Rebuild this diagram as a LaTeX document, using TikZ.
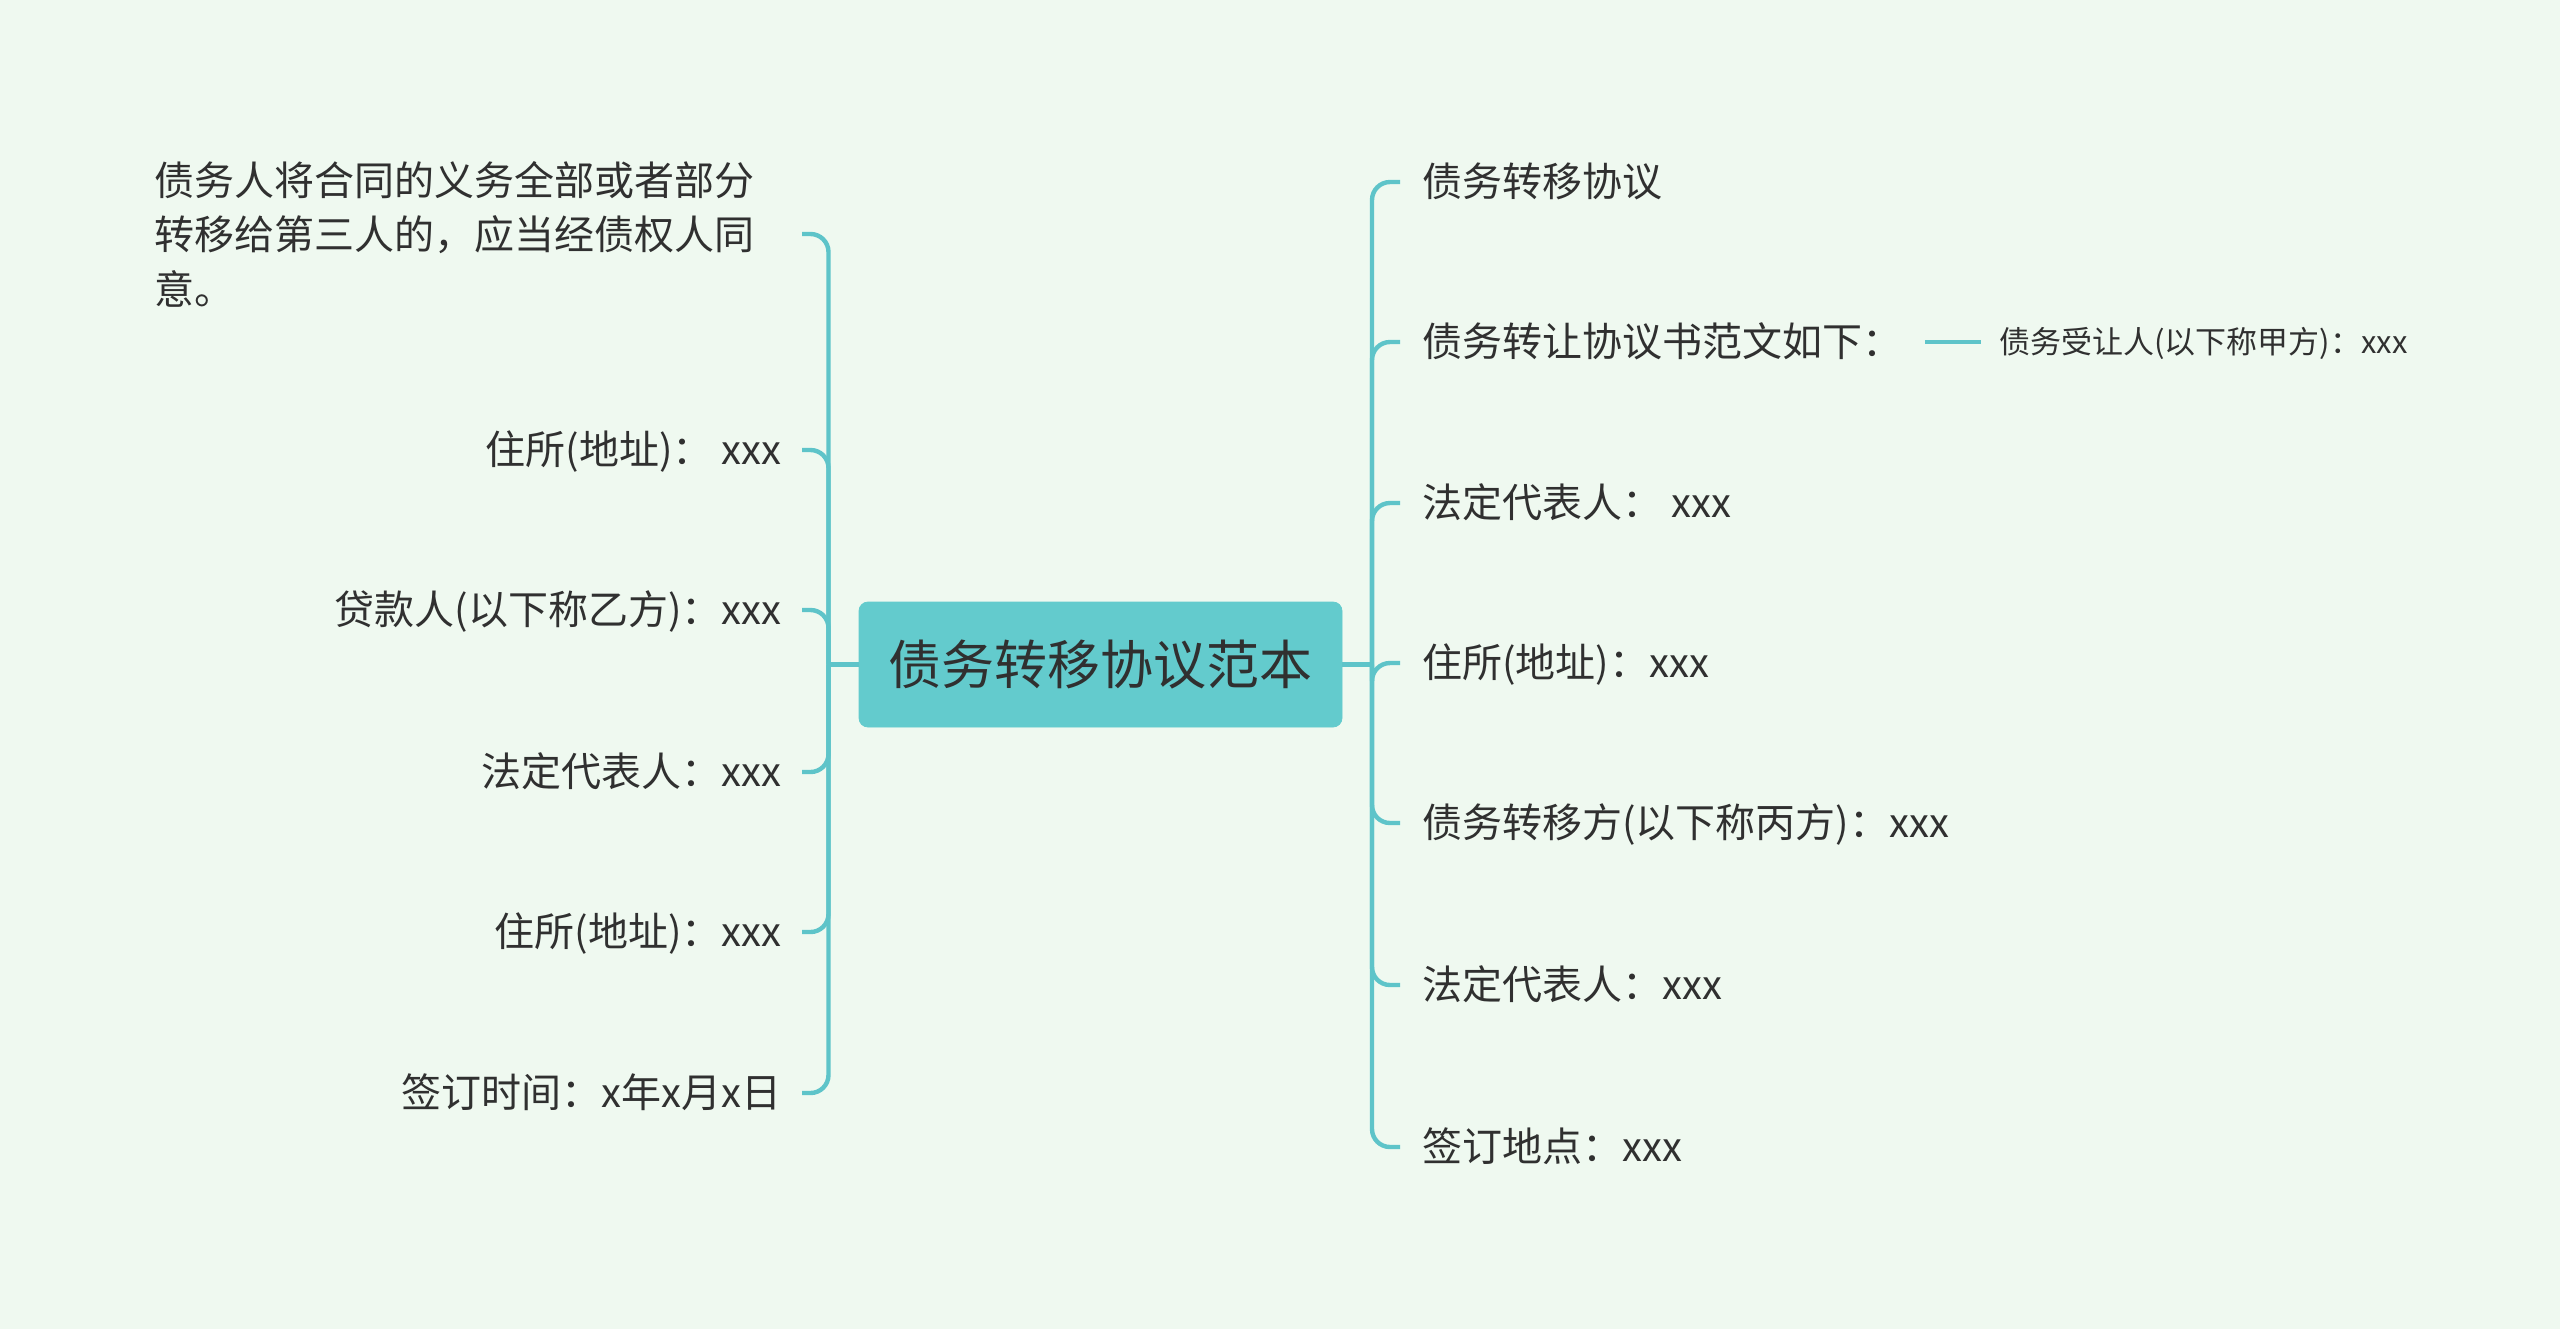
\documentclass[tikz,border=0pt]{standalone}
\usepackage{fontspec}
\setmainfont{Noto Sans CJK SC}
\usepackage{xcolor}
\usetikzlibrary{positioning}
\definecolor{bgmint}{RGB}{239,249,240}
\definecolor{linkteal}{RGB}{94,196,201}
\definecolor{rootteal}{RGB}{99,203,205}
\definecolor{inkgray}{RGB}{48,48,48}

\begin{document}
\begin{tikzpicture}[x=0.5pt,y=-0.5pt,
  link/.style={draw=linkteal,line width=2.2pt,rounded corners=9pt},
  topic/.style={fill=rootteal,draw=rootteal,rounded corners=4.5pt,minimum width=241.5pt,minimum height=62.5pt,inner sep=0pt,text=inkgray,font=\fontsize{26.5pt}{30pt}\selectfont},
  leaf/.style={inner ysep=0pt,inner xsep=10pt,text=inkgray,text height=17pt,text depth=2.2pt,font=\fontsize{20pt}{27.25pt}\selectfont},
  lleaf/.style={leaf,anchor=east},
  rleaf/.style={leaf,anchor=west,inner xsep=11pt},
  note/.style={anchor=east,inner ysep=0pt,inner xsep=10pt,text=inkgray,align=left,text width=313.5pt,font=\fontsize{20pt}{27.25pt}\selectfont},
  subleaf/.style={leaf,inner xsep=9pt,text height=13.2pt,text depth=1.7pt,font=\fontsize{15.5pt}{18pt}\selectfont}]
\fill[bgmint] (0,0) rectangle (2560,1329);
\useasboundingbox (0,0) rectangle (2560,1329);

\node[topic] (root) at (1100.5,664.5) {债务转移协议范本};

\node[note] (l1) at (802,234) {债务人将合同的义务全部或者部分\\转移给第三人的，应当经债权人同\\意。};
\node[lleaf] (l2) at (802,450) {住所(地址)： xxx};
\node[lleaf] (l3) at (802,610) {贷款人(以下称乙方)：xxx};
\node[lleaf] (l4) at (802,772) {法定代表人：xxx};
\node[lleaf] (l5) at (802,932) {住所(地址)：xxx};
\node[lleaf] (l6) at (802,1093) {签订时间：x年x月x日};

\node[rleaf] (r1) at (1400,182) {债务转移协议};
\node[rleaf] (r2) at (1400,342) {债务转让协议书范文如下：};
\node[subleaf, right=28pt of r2] (s1) {债务受让人(以下称甲方)：xxx};
\node[rleaf] (r3) at (1400,503) {法定代表人： xxx};
\node[rleaf] (r4) at (1400,663) {住所(地址)：xxx};
\node[rleaf] (r5) at (1400,823) {债务转移方(以下称丙方)：xxx};
\node[rleaf] (r6) at (1400,985) {法定代表人：xxx};
\node[rleaf] (r7) at (1400,1147) {签订地点：xxx};

\coordinate (lj) at (828.5,664.5);
\coordinate (rj) at (1372,664.5);

\draw[link] (root.west) -- (lj);
\draw[link] (lj) |- (l1.east);
\draw[link] (lj) |- (l2.east);
\draw[link] (lj) |- (l3.east);
\draw[link] (lj) |- (l4.east);
\draw[link] (lj) |- (l5.east);
\draw[link] (lj) |- (l6.east);

\draw[link] (root.east) -- (rj);
\draw[link] (rj) |- (r1.west);
\draw[link] (rj) |- (r2.west);
\draw[link] (rj) |- (r3.west);
\draw[link] (rj) |- (r4.west);
\draw[link] (rj) |- (r5.west);
\draw[link] (rj) |- (r6.west);
\draw[link] (rj) |- (r7.west);
\draw[link] (r2.east) -- (s1.west);
\end{tikzpicture}
\end{document}
